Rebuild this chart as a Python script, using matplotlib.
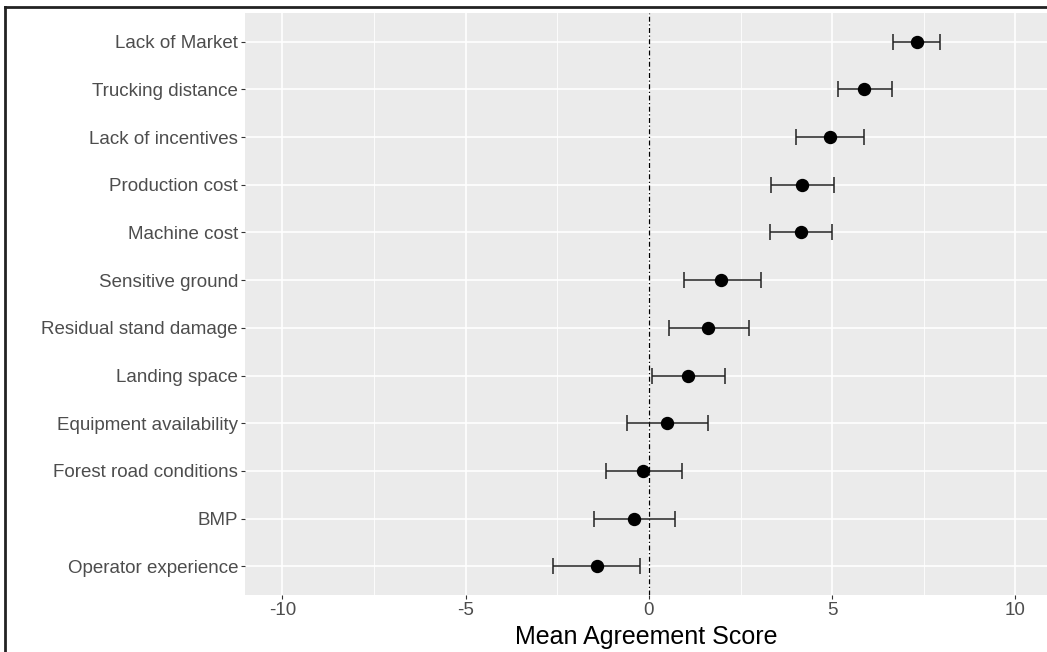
import matplotlib.pyplot as plt
from matplotlib.lines import Line2D

# ── Data ──────────────────────────────────────────────
factors = [
    "Operator experience", "BMP", "Forest road conditions",
    "Equipment availability", "Landing space", "Residual stand damage",
    "Sensitive ground", "Machine cost", "Production cost",
    "Lack of incentives", "Trucking distance", "Lack of Market",
]
means = [-1.42, -0.41, -0.16, 0.49, 1.07, 1.62, 1.97, 4.15, 4.18, 4.95, 5.87, 7.30]
lower = [-2.62, -1.50, -1.17, -0.60, 0.08, 0.55, 0.95, 3.30, 3.33, 4.02, 5.16, 6.67]
upper = [-0.25, 0.71, 0.90, 1.61, 2.08, 2.73, 3.06, 5.00, 5.05, 5.87, 6.64, 7.95]
x_ticks = [-10, -5, 0, 5, 10]
x_minor = [-7.5, -2.5, 2.5, 7.5]

plt.rcParams["font.family"] = ["Liberation Sans", "DejaVu Sans"]

fig = plt.figure(figsize=(10.47, 6.52), dpi=100)
ax = fig.add_axes([0.234, 0.0874, 0.766, 0.8926])
ax.set_facecolor("#EBEBEB")
for s in ax.spines.values():
    s.set_visible(False)

ypos = list(range(1, len(factors) + 1))

# ── Grid lines ─────────────────────────────────────────
for v in x_ticks:
    ax.axvline(v, color="white", lw=1.2, zorder=0)
for v in x_minor:
    ax.axvline(v, color="white", lw=0.6, zorder=0)
for y in ypos:
    ax.axhline(y, color="white", lw=1.2, zorder=0)

# ── Zero reference line ────────────────────────────────
ax.axvline(0, color="black", lw=0.9, linestyle=(0, (4, 2, 1, 2)), zorder=1)

# ── Points with error bars ─────────────────────────────
err_lo = [m - l for m, l in zip(means, lower)]
err_hi = [u - m for m, u in zip(means, upper)]
ax.errorbar(means, ypos, xerr=[err_lo, err_hi], fmt="none",
            ecolor="#222222", elinewidth=1.1, capsize=5.5, capthick=1.1, zorder=2)
ax.plot(means, ypos, "o", color="black", markersize=8.6, zorder=3)

ax.set_xlim(-11.02, 10.86)
ax.set_ylim(0.4, 12.6)
ax.set_xticks(x_ticks)
ax.set_xticklabels([str(v) for v in x_ticks])
ax.set_yticks(ypos)
ax.set_yticklabels(factors)
ax.tick_params(axis="both", colors="#333333", length=3, width=0.8,
               labelsize=13.5, labelcolor="#4D4D4D", pad=2)
ax.set_xlabel("Mean Agreement Score", fontsize=18, color="black", labelpad=4)

# ── Outer frame (top and left only, as in the scan) ────
fig.add_artist(Line2D([5 / 1047, 1.0], [1 - 7 / 652, 1 - 7 / 652],
                      transform=fig.transFigure, color="#222222", lw=2))
fig.add_artist(Line2D([5 / 1047, 5 / 1047], [0.0, 1 - 7 / 652],
                      transform=fig.transFigure, color="#222222", lw=2))

fig.savefig("out.png", dpi=100)
